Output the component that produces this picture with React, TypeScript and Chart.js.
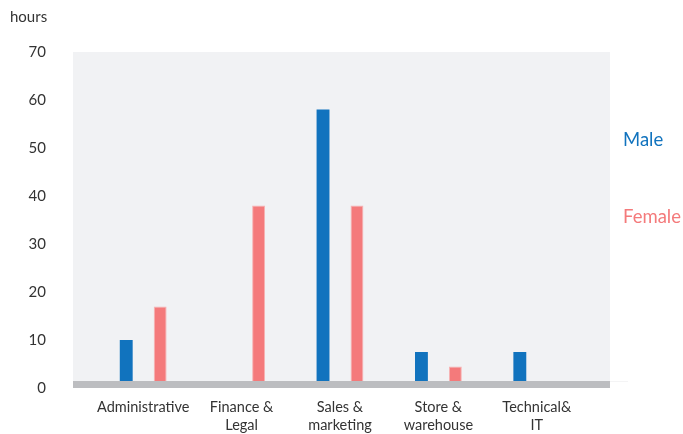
import React, { useEffect, useRef } from "react";
import { Chart, registerables } from "chart.js";

Chart.register(...registerables);

const categories: (string | string[])[] = [
  "Administrative",
  ["Finance &", "Legal"],
  ["Sales &", "marketing"],
  ["Store &", "warehouse"],
  ["Technical&", "IT"],
];
const maleHours = [10, 0, 58, 7.5, 7.5];
const femaleHours = [17, 38, 38, 4.5, 0];
const yTicks = [0, 10, 20, 30, 40, 50, 60, 70];

const MALE = "#1173be";
const FEMALE = "#f47a7b";
const FONT = "Lato, 'Open Sans', sans-serif";

const bgPlugin = {
  id: "plotBg",
  beforeDatasetsDraw(chart: any) {
    const { ctx, chartArea } = chart;
    const y0 = chart.scales.y.getPixelForValue(0);
    ctx.save();
    ctx.fillStyle = "#f1f2f4";
    ctx.fillRect(chartArea.left - 21, chartArea.top, chartArea.right - chartArea.left + 45, y0 - chartArea.top);
    ctx.restore();
  },
  afterDatasetsDraw(chart: any) {
    const { ctx, chartArea } = chart;
    const y0 = chart.scales.y.getPixelForValue(0);
    ctx.save();
    ctx.fillStyle = "#f4f4f5";
    ctx.fillRect(chartArea.right + 24, y0 - 7, 18, 1);
    ctx.fillStyle = "#bcbdc0";
    ctx.fillRect(chartArea.left - 21, y0 - 7, chartArea.right - chartArea.left + 45, 7);
    ctx.restore();
  },
};

export default function App() {
  const ref = useRef<HTMLCanvasElement>(null);
  useEffect(() => {
    if (!ref.current) return;
    const chart = new Chart(ref.current, {
      type: "bar",
      data: {
        labels: categories,
        datasets: [
          {
            label: "Male",
            data: maleHours,
            backgroundColor: MALE,
            borderWidth: 0,
            categoryPercentage: 0.69,
            barPercentage: 0.38,
          },
          {
            label: "Female",
            data: femaleHours,
            backgroundColor: FEMALE,
            borderColor: "#f7b3b3",
            borderWidth: 1,
            categoryPercentage: 0.69,
            barPercentage: 0.38,
          },
        ],
      },
      options: {
        responsive: false,
        animation: false,
        layout: { padding: { left: 0, right: 97, top: 52, bottom: 0 } },
        plugins: { legend: { display: false }, tooltip: { enabled: false } },
        scales: {
          x: {
            grid: { display: false, drawTicks: false },
            border: { display: false },
            ticks: {
              color: "#333",
              font: { family: FONT, size: 14.5, lineHeight: 1.25 },
              padding: 10,
              maxRotation: 0,
              autoSkip: false,
            },
            afterFit: (s: any) => {
              s.height = 46;
              s.paddingLeft = 0;
              s.paddingRight = 0;
            },
          },
          y: {
            min: 0,
            max: 70,
            grid: { display: false, drawTicks: false },
            border: { display: false },
            afterBuildTicks: (s: any) => {
              s.ticks = yTicks.map((v) => ({ value: v }));
            },
            ticks: {
              color: "#333",
              font: { family: FONT, size: 15 },
              padding: 48,
            },
            afterFit: (s: any) => {
              s.width = 94;
              s.paddingTop = 0;
              s.paddingBottom = 0;
            },
          },
        },
      },
      plugins: [bgPlugin],
    });
    return () => chart.destroy();
  }, []);

  return (
    <div style={{ position: "absolute", left: 0, top: 0, width: 683, height: 434, background: "#fff" }}>
      <canvas ref={ref} width={683} height={434} style={{ display: "block" }} />
      <div style={{ position: "absolute", left: 10, top: 7, fontFamily: FONT, fontSize: 15, color: "#333" }}>hours</div>
      <div style={{ position: "absolute", left: 623, top: 128, fontFamily: FONT, fontSize: 18.5, color: MALE }}>Male</div>
      <div style={{ position: "absolute", left: 623, top: 205, fontFamily: FONT, fontSize: 18.5, color: FEMALE, whiteSpace: "nowrap" }}>Female</div>
    </div>
  );
}
